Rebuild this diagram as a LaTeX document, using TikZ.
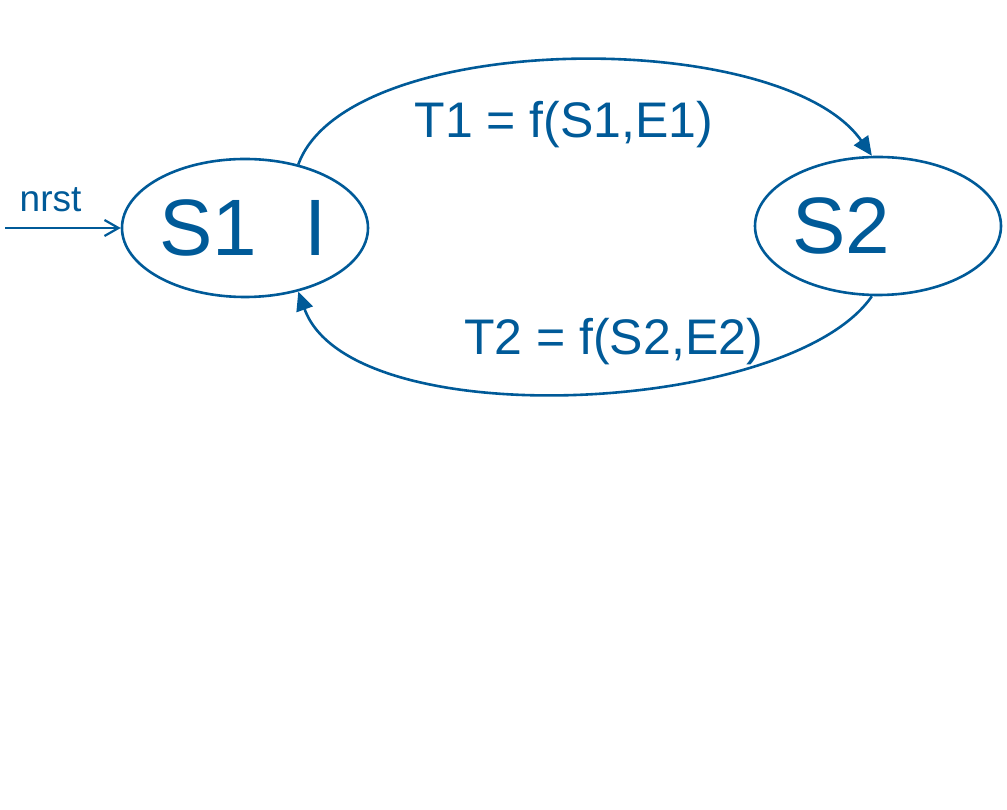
\documentclass[tikz,border=0pt]{standalone}
\usepackage{fontspec}
\setmainfont{Liberation Sans}
\usetikzlibrary{shapes.geometric,arrows.meta}
\definecolor{stateblue}{RGB}{0,90,152}
\begin{document}
\begin{tikzpicture}[x=1pt,y=1pt,>={Triangle[length=19pt,width=17pt]},
  state/.style={ellipse,draw=stateblue,line width=2.6pt,minimum width=246pt,minimum height=138pt,inner sep=0pt,text width=172pt,align=left,text=stateblue,font=\fontsize{80}{80}\selectfont},
  trans/.style={stateblue,line width=2.6pt,->},
  translabel/.style={text=stateblue,font=\fontsize{50}{50}\selectfont,anchor=base,inner sep=0pt}]
\useasboundingbox (0,0) rectangle (1007,809);
\node[state] (S1) at (245,581) {S1\hspace{48pt}I};
\node[state] (S2) at (878,583) {S2};
\node[translabel] (t1) at (564,671) {T1 = f(S1,E1)};
\node[translabel] (t2) at (613.5,454) {T2 = f(S2,E2)};
\node[text=stateblue,font=\fontsize{37}{37}\selectfont,anchor=base west,inner sep=0pt] (nrst) at (19.5,597) {nrst};
\coordinate (rst) at (5,581);
\draw[stateblue,line width=2.2pt,-{Straight Barb[length=14pt,width=16pt]}] (rst) -- (S1);
\draw[trans] (S1.50) .. controls +(49,135) and +(-91,130) .. (S2.95);
\draw[trans] (S2.-95) .. controls +(-82,-119) and +(52,-145) .. (S1.-50);
\end{tikzpicture}
\end{document}
